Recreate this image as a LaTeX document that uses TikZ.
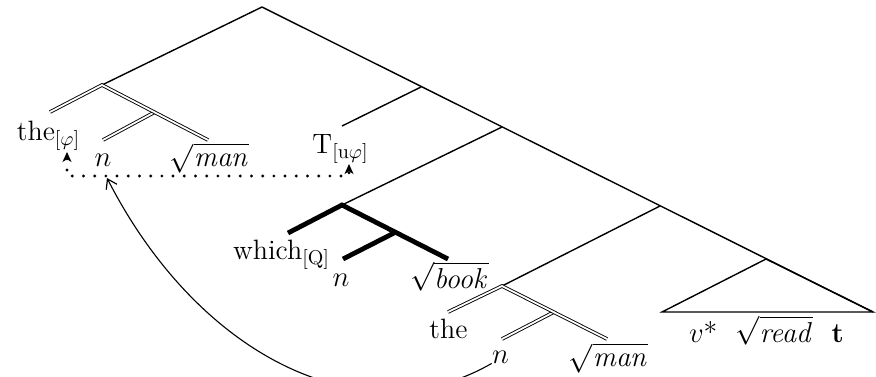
\documentclass[tikz,border=0pt]{standalone}
\usetikzlibrary{arrows.meta}
\begin{document}
\begin{tikzpicture}[x=0.5pt,y=-0.5pt,
  br/.style={line width=0.7pt},
  dbl/.style={double, line width=0.45pt, double distance=0.9pt},
  thk/.style={line width=2.4pt},
  lab/.style={anchor=base, inner sep=0pt, font=\fontsize{14}{16}\selectfont},
  dotline/.style={line width=1.6pt, line cap=round, dash pattern=on 0pt off 5.6pt,
    {Stealth[length=5pt,width=4.5pt,inset=1.4pt,line width=0.5pt]}-{Stealth[length=5pt,width=4.5pt,inset=1.4pt,line width=0.5pt]}},
  move/.style={line width=0.55pt, -{Straight Barb[length=4.5pt,width=6pt,line width=0.6pt]}}]
\useasboundingbox (0,0) rectangle (876,376);

% spine and its nodes
\coordinate (root) at (262,7);
\coordinate (s1) at (421,87);
\coordinate (s2) at (502,127);
\coordinate (s3) at (660,206);
\coordinate (s4) at (766,259);
\coordinate (triL) at (662,312);
\coordinate (triR) at (873,312);

% upper DP
\coordinate (dp1) at (102,85);
\coordinate (dp1a) at (50,112);
\coordinate (dp1b) at (155,112);
\coordinate (dp1n) at (103,140);
\coordinate (dp1r) at (208,140);

% T head
\coordinate (tend) at (342,126);

% which DP
\coordinate (wp) at (342,205);
\coordinate (wpa) at (288,233);
\coordinate (wpb) at (394,233);
\coordinate (wpn) at (343,259);
\coordinate (wpr) at (448,259);

% lower DP
\coordinate (dp2) at (502,286);
\coordinate (dp2a) at (448,312);
\coordinate (dp2b) at (554,312);
\coordinate (dp2n) at (502,339);
\coordinate (dp2r) at (607,339);

% labels
\node[lab] (theT) at (48.5,140) {the$_{[\varphi]}$};
\node[lab] (nT) at (103,166) {$n$};
\node[lab] (manT) at (209.5,166) {$\sqrt{\mathit{man}}$};
\node[lab] (T) at (340.5,153) {T$_{[\mathrm{u}\varphi]}$};
\node[lab] (which) at (281.5,259) {which$_{[\mathrm{Q}]}$};
\node[lab] (nW) at (341,286) {$n$};
\node[lab] (book) at (449.5,288) {$\sqrt{\mathit{book}}$};
\node[lab] (theB) at (448.5,338) {the};
\node[lab] (nB) at (500.5,363) {$n$};
\node[lab] (manB) at (608.5,366) {$\sqrt{\mathit{man}}$};
\node[lab] (vp) at (766.5,342) {$v$*\ \ $\sqrt{\mathit{read}}$\ \ \textbf{t}};

% thin branches
\draw[br] (root) -- (triR);
\draw[br] (root) -- (dp1);
\draw[br] (s1) -- (tend);
\draw[br] (s2) -- (wp);
\draw[br] (s3) -- (dp2);
\draw[br, line join=miter] (triL) -- (s4) -- (triR) -- cycle;

% double-line DPs
\draw[dbl] (dp1n) -- (dp1b);
\draw[dbl] (dp1a) -- (dp1) -- (dp1r);
\draw[dbl] (dp2n) -- (dp2b);
\draw[dbl] (dp2a) -- (dp2) -- (dp2r);

% thick wh-phrase
\draw[thk] (wpn) -- (wpb);
\draw[thk] (wpa) -- (wp) -- (wpr);

% agreement link
\coordinate (aL) at (67,152);
\coordinate (cL) at (67,176);
\coordinate (cR) at (349,176);
\coordinate (aR) at (349,164);
\draw[dotline] (aL) -- (cL) -- (cR) -- (aR);

% movement arrow
\coordinate (ce) at (107,178);
\draw[move] (nB.south west) .. controls +(-130,75) and +(91,178) .. (ce);
\end{tikzpicture}
\end{document}
